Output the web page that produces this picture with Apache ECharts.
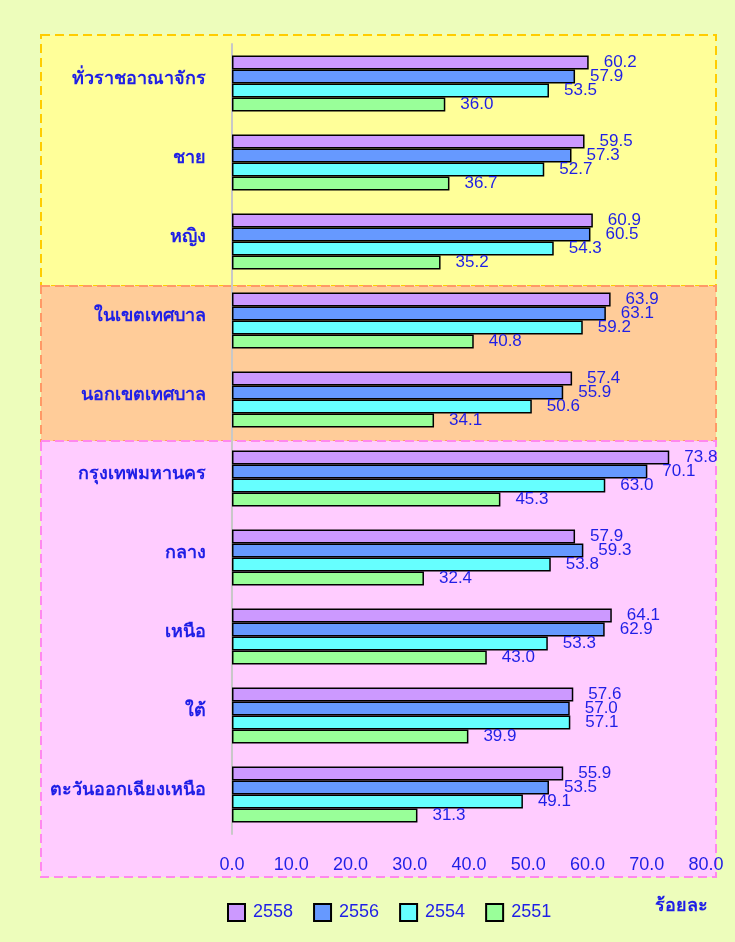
<!DOCTYPE html>
<html>
<head>
<meta charset="utf-8">
<script src="https://cdn.jsdelivr.net/npm/echarts@6/dist/echarts.min.js"></script>
<style>
  html, body { margin: 0; padding: 0; background: #ffffff; }
  #chart { width: 735px; height: 942px; }
</style>
</head>
<body>
<div id="chart"></div>
<script>
// Regions / groups shown on the vertical axis (top to bottom)
const categories = [
  'ทั่วราชอาณาจักร', 'ชาย', 'หญิง',
  'ในเขตเทศบาล', 'นอกเขตเทศบาล',
  'กรุงเทพมหานคร', 'กลาง', 'เหนือ', 'ใต้', 'ตะวันออกเฉียงเหนือ'
];

// Percentage values per survey year
const values2558 = [60.2, 59.5, 60.9, 63.9, 57.4, 73.8, 57.9, 64.1, 57.6, 55.9];
const values2556 = [57.9, 57.3, 60.5, 63.1, 55.9, 70.1, 59.3, 62.9, 57.0, 53.5];
const values2554 = [53.5, 52.7, 54.3, 59.2, 50.6, 63.0, 53.8, 53.3, 57.1, 49.1];
const values2551 = [36.0, 36.7, 35.2, 40.8, 34.1, 45.3, 32.4, 43.0, 39.9, 31.3];

const yearNames = ['2558', '2556', '2554', '2551'];
const unitLabel = 'ร้อยละ';

const BLUE = '#1f1fe6';
const FONT = '"Liberation Sans", Arial, "Noto Sans", sans-serif';
const colors = ['#cc99ff', '#6699ff', '#66ffff', '#99ff99'];
const seriesValues = [values2558, values2556, values2554, values2551];

const chart = echarts.init(document.getElementById('chart'));

const series = yearNames.map((name, i) => ({
  name: name,
  type: 'bar',
  data: seriesValues[i],
  barWidth: 14,
  barGap: '0%',
  itemStyle: { color: colors[i], borderColor: '#000000', borderWidth: 1.5 },
  label: {
    show: true,
    position: 'right',
    distance: 15,
    color: BLUE,
    fontSize: 17,
    fontFamily: FONT,
    formatter: p => p.value.toFixed(1)
  }
}));

// Shaded, dashed-outline panels behind the three groups of categories
function panel(y, h, fill, stroke) {
  return {
    type: 'rect',
    z: -10,
    shape: { x: 41, y: y, width: 675, height: h },
    style: { fill: fill, stroke: stroke, lineWidth: 2, lineDash: [9, 5] }
  };
}

chart.setOption({
  backgroundColor: '#edfdbb',
  animation: false,
  graphic: [
    panel(35, 251, '#ffff99', '#ffcc00'),
    panel(286, 155, '#ffcc99', '#ff9966'),
    panel(441, 436, '#ffccff', '#ff88ee'),
    {
      type: 'text',
      right: 27,
      top: 897,
      style: {
        text: unitLabel,
        fill: BLUE,
        font: 'bold 18px ' + FONT
      }
    }
  ],
  grid: { left: 232, right: 29, top: 44, height: 790, containLabel: false },
  legend: {
    data: yearNames,
    left: 222,
    top: 898,
    itemWidth: 17,
    itemHeight: 17,
    itemGap: 20,
    icon: 'rect',
    textStyle: { color: BLUE, fontSize: 18, fontFamily: FONT, padding: [0, 0, 0, 3] }
  },
  xAxis: {
    type: 'value',
    min: 0,
    max: 80,
    interval: 10,
    axisLine: { show: false },
    axisTick: { show: false },
    splitLine: { show: false },
    axisLabel: {
      color: BLUE,
      fontSize: 18,
      fontFamily: FONT,
      margin: 22,
      formatter: v => v.toFixed(1)
    }
  },
  yAxis: {
    type: 'category',
    data: categories,
    inverse: true,
    axisLine: { show: true, lineStyle: { color: '#c8c8c8', width: 2 } },
    axisTick: { show: false },
    axisLabel: {
      margin: 26,
      formatter: v => '{c|' + v + '}',
      rich: {
        c: {
          color: BLUE,
          fontSize: 18,
          fontWeight: 'bold',
          fontFamily: FONT,
          padding: [0, 0, 8, 0]
        }
      }
    }
  },
  series: series
});
</script>
</body>
</html>
